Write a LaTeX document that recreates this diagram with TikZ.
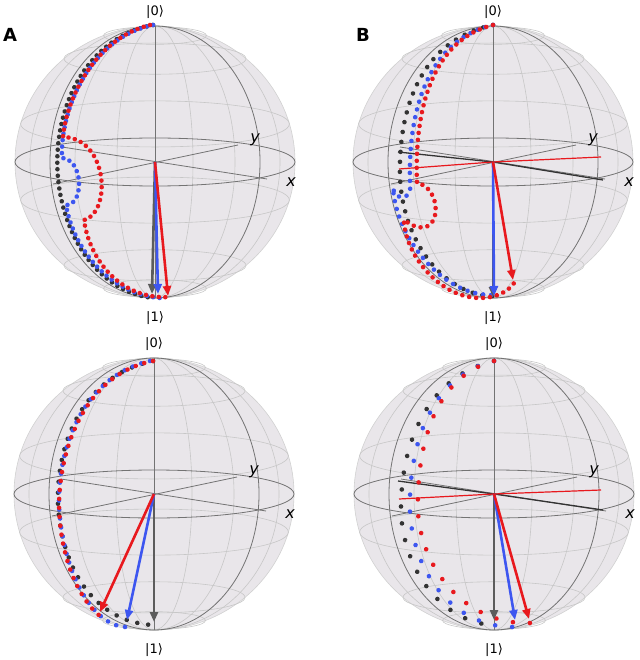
\documentclass[tikz,border=0pt]{standalone}
\usepackage{fontspec}
\setmainfont{DejaVu Sans}
\usetikzlibrary{arrows.meta,decorations.markings}
\definecolor{qred}{HTML}{E8191E}
\definecolor{qblue}{HTML}{3D56F0}
\definecolor{qblack}{HTML}{333333}
\definecolor{sfill}{HTML}{E9E6EA}
\colorlet{trailcol}{black}
\tikzset{
  gridl/.style={draw=black!22,line width=0.6pt},
  darkl/.style={draw=black!55,line width=0.8pt},
  tcol/.code={\colorlet{trailcol}{#1}},
  trail/.style={decoration={markings,mark=between positions 0 and 1 step #1 with {\fill[trailcol] circle (2.3pt);}},decorate},
  vec/.style={line width=2.6pt,-{Triangle[length=10pt,width=8pt]}},
  ket/.style={font=\fontsize{13}{13}\selectfont},
  axl/.style={font=\fontsize{16}{16}\selectfont\itshape},
  panel/.style={font=\fontsize{18}{18}\selectfont\bfseries}
}
\newcommand{\blochsph}[3]{%
\begin{scope}[shift={(#1,#2)}]
  \fill[sfill] (0,0) ellipse [x radius=140, y radius=136];
  \draw[black!18,line width=0.6pt] (0,0) ellipse [x radius=140, y radius=136];
  \foreach \z in {-0.93,-0.76,-0.28,0.28,0.76,0.93}
    \draw[gridl] (0,{-136*\z}) ellipse [x radius={140*sqrt(1-\z*\z)}, y radius={24*sqrt(1-\z*\z)}];
  \foreach \r in {38,80,125}
    \draw[gridl] (0,0) ellipse [x radius=\r, y radius=136];
  \draw[darkl] (0,0) ellipse [x radius=140, y radius=24];
  \draw[darkl] (0,0) ellipse [x radius=105, y radius=136];
  \draw[darkl] (0,-136) -- (0,136);
  \draw[darkl] (-93,-15) -- (112,17);
  \draw[darkl] (-102,22) -- (83,-17);
  \coordinate (#3c) at (0,0);
  \node[ket] (#3k0) at (0,-150) {|0⟩};
  \node[ket] (#3k1) at (0,156) {|1⟩};
  \node[axl] (#3y) at (100,-22) {y};
  \node[axl] (#3x) at (136,20) {x};
\end{scope}}
\begin{document}
\begin{tikzpicture}[x=1pt,y=-1pt]
\useasboundingbox (0,0) rectangle (639,660);
\fill[white] (0,0) rectangle (639,660);
\blochsph{155}{162}{a}
\blochsph{493}{162}{b}
\blochsph{154}{494}{c}
\blochsph{494}{494}{d}
\node[panel] (pa) at (10,35) {A};
\node[panel] (pb) at (363,35) {B};
% B extra lines
\draw[qblack,line width=1.3pt] (398,152) -- (bc) -- (603,180);
\draw[qred,line width=1.2pt] (399,169) -- (bc) -- (601,157);
\draw[qblack,line width=1.3pt] (398,481) -- (dc) -- (603,510);
\draw[qred,line width=1.2pt] (399,499) -- (dc) -- (601,490);
% A top trails
\path[tcol=qblack,trail=6.5pt] (153,25) .. controls (85,38) and (52,110) .. (58,178) .. controls (64,240) and (100,292) .. (153,298);
\path[tcol=qblue,trail=6.5pt] (153,25) .. controls (90,38) and (60,110) .. (62,158) .. controls (84,160) and (84,205) .. (66,205) .. controls (74,250) and (110,294) .. (160,298);
\path[tcol=qred,trail=6.5pt] (150,25) .. controls (95,38) and (66,100) .. (63,137) .. controls (108,138) and (112,212) .. (84,220) .. controls (90,262) and (122,300) .. (170,297);
% B top trails
\path[tcol=qblack,trail=10pt] (493,25) .. controls (420,40) and (398,110) .. (400,178) .. controls (404,250) and (450,296) .. (493,296);
\path[tcol=qblue,trail=8pt] (493,25) .. controls (428,40) and (408,110) .. (410,182) .. controls (413,200) and (396,202) .. (393,188) .. controls (396,235) and (440,296) .. (493,295);
\path[tcol=qred,trail=7pt] (493,25) .. controls (432,40) and (414,110) .. (417,183) .. controls (445,188) and (442,248) .. (404,220) .. controls (405,255) and (440,298) .. (480,298) .. controls (495,298) and (508,292) .. (514,283);
% bottom A trails
\path[tcol=qblack,trail=11pt] (153,361) .. controls (85,375) and (56,440) .. (58,505) .. controls (62,570) and (95,622) .. (153,625);
\path[tcol=qblue,trail=9pt] (150,361) .. controls (88,375) and (58,440) .. (59,505) .. controls (62,570) and (92,628) .. (128,627);
\path[tcol=qred,trail=9pt] (153,361) .. controls (90,373) and (60,440) .. (59,505) .. controls (60,560) and (80,600) .. (100,616);
% bottom B trails
\path[tcol=qblack,trail=17pt] (494,361) .. controls (430,375) and (400,440) .. (401,513) .. controls (405,580) and (450,624) .. (494,625);
\path[tcol=qblue,trail=17pt] (494,361) .. controls (434,375) and (408,440) .. (410,513) .. controls (414,575) and (455,628) .. (515,627);
\path[tcol=qred,trail=17pt] (494,361) .. controls (438,375) and (416,440) .. (418,513) .. controls (423,575) and (470,625) .. (530,623);
% arrows
\coordinate (a1) at (152,294); \coordinate (a2) at (158,294); \coordinate (a3) at (168,296);
\draw[vec,qblack!80] (ac) -- (a1);
\draw[vec,qblue] (ac) -- (a2);
\draw[vec,qred] (ac) -- (a3);
\coordinate (b1) at (493,297); \coordinate (b2) at (494,296); \coordinate (b3) at (513,280);
\draw[vec,qblack!80] (bc) -- (b1);
\draw[vec,qblue] (bc) -- (b2);
\draw[vec,qred] (bc) -- (b3);
\coordinate (c1) at (154,622); \coordinate (c2) at (127,620); \coordinate (c3) at (100,612);
\draw[vec,qblack!80] (cc) -- (c1);
\draw[vec,qblue] (cc) -- (c2);
\draw[vec,qred] (cc) -- (c3);
\coordinate (d1) at (494,620); \coordinate (d2) at (515,620); \coordinate (d3) at (529,619);
\draw[vec,qblack!80] (dc) -- (d1);
\draw[vec,qblue] (dc) -- (d2);
\draw[vec,qred] (dc) -- (d3);
\end{tikzpicture}
\end{document}
